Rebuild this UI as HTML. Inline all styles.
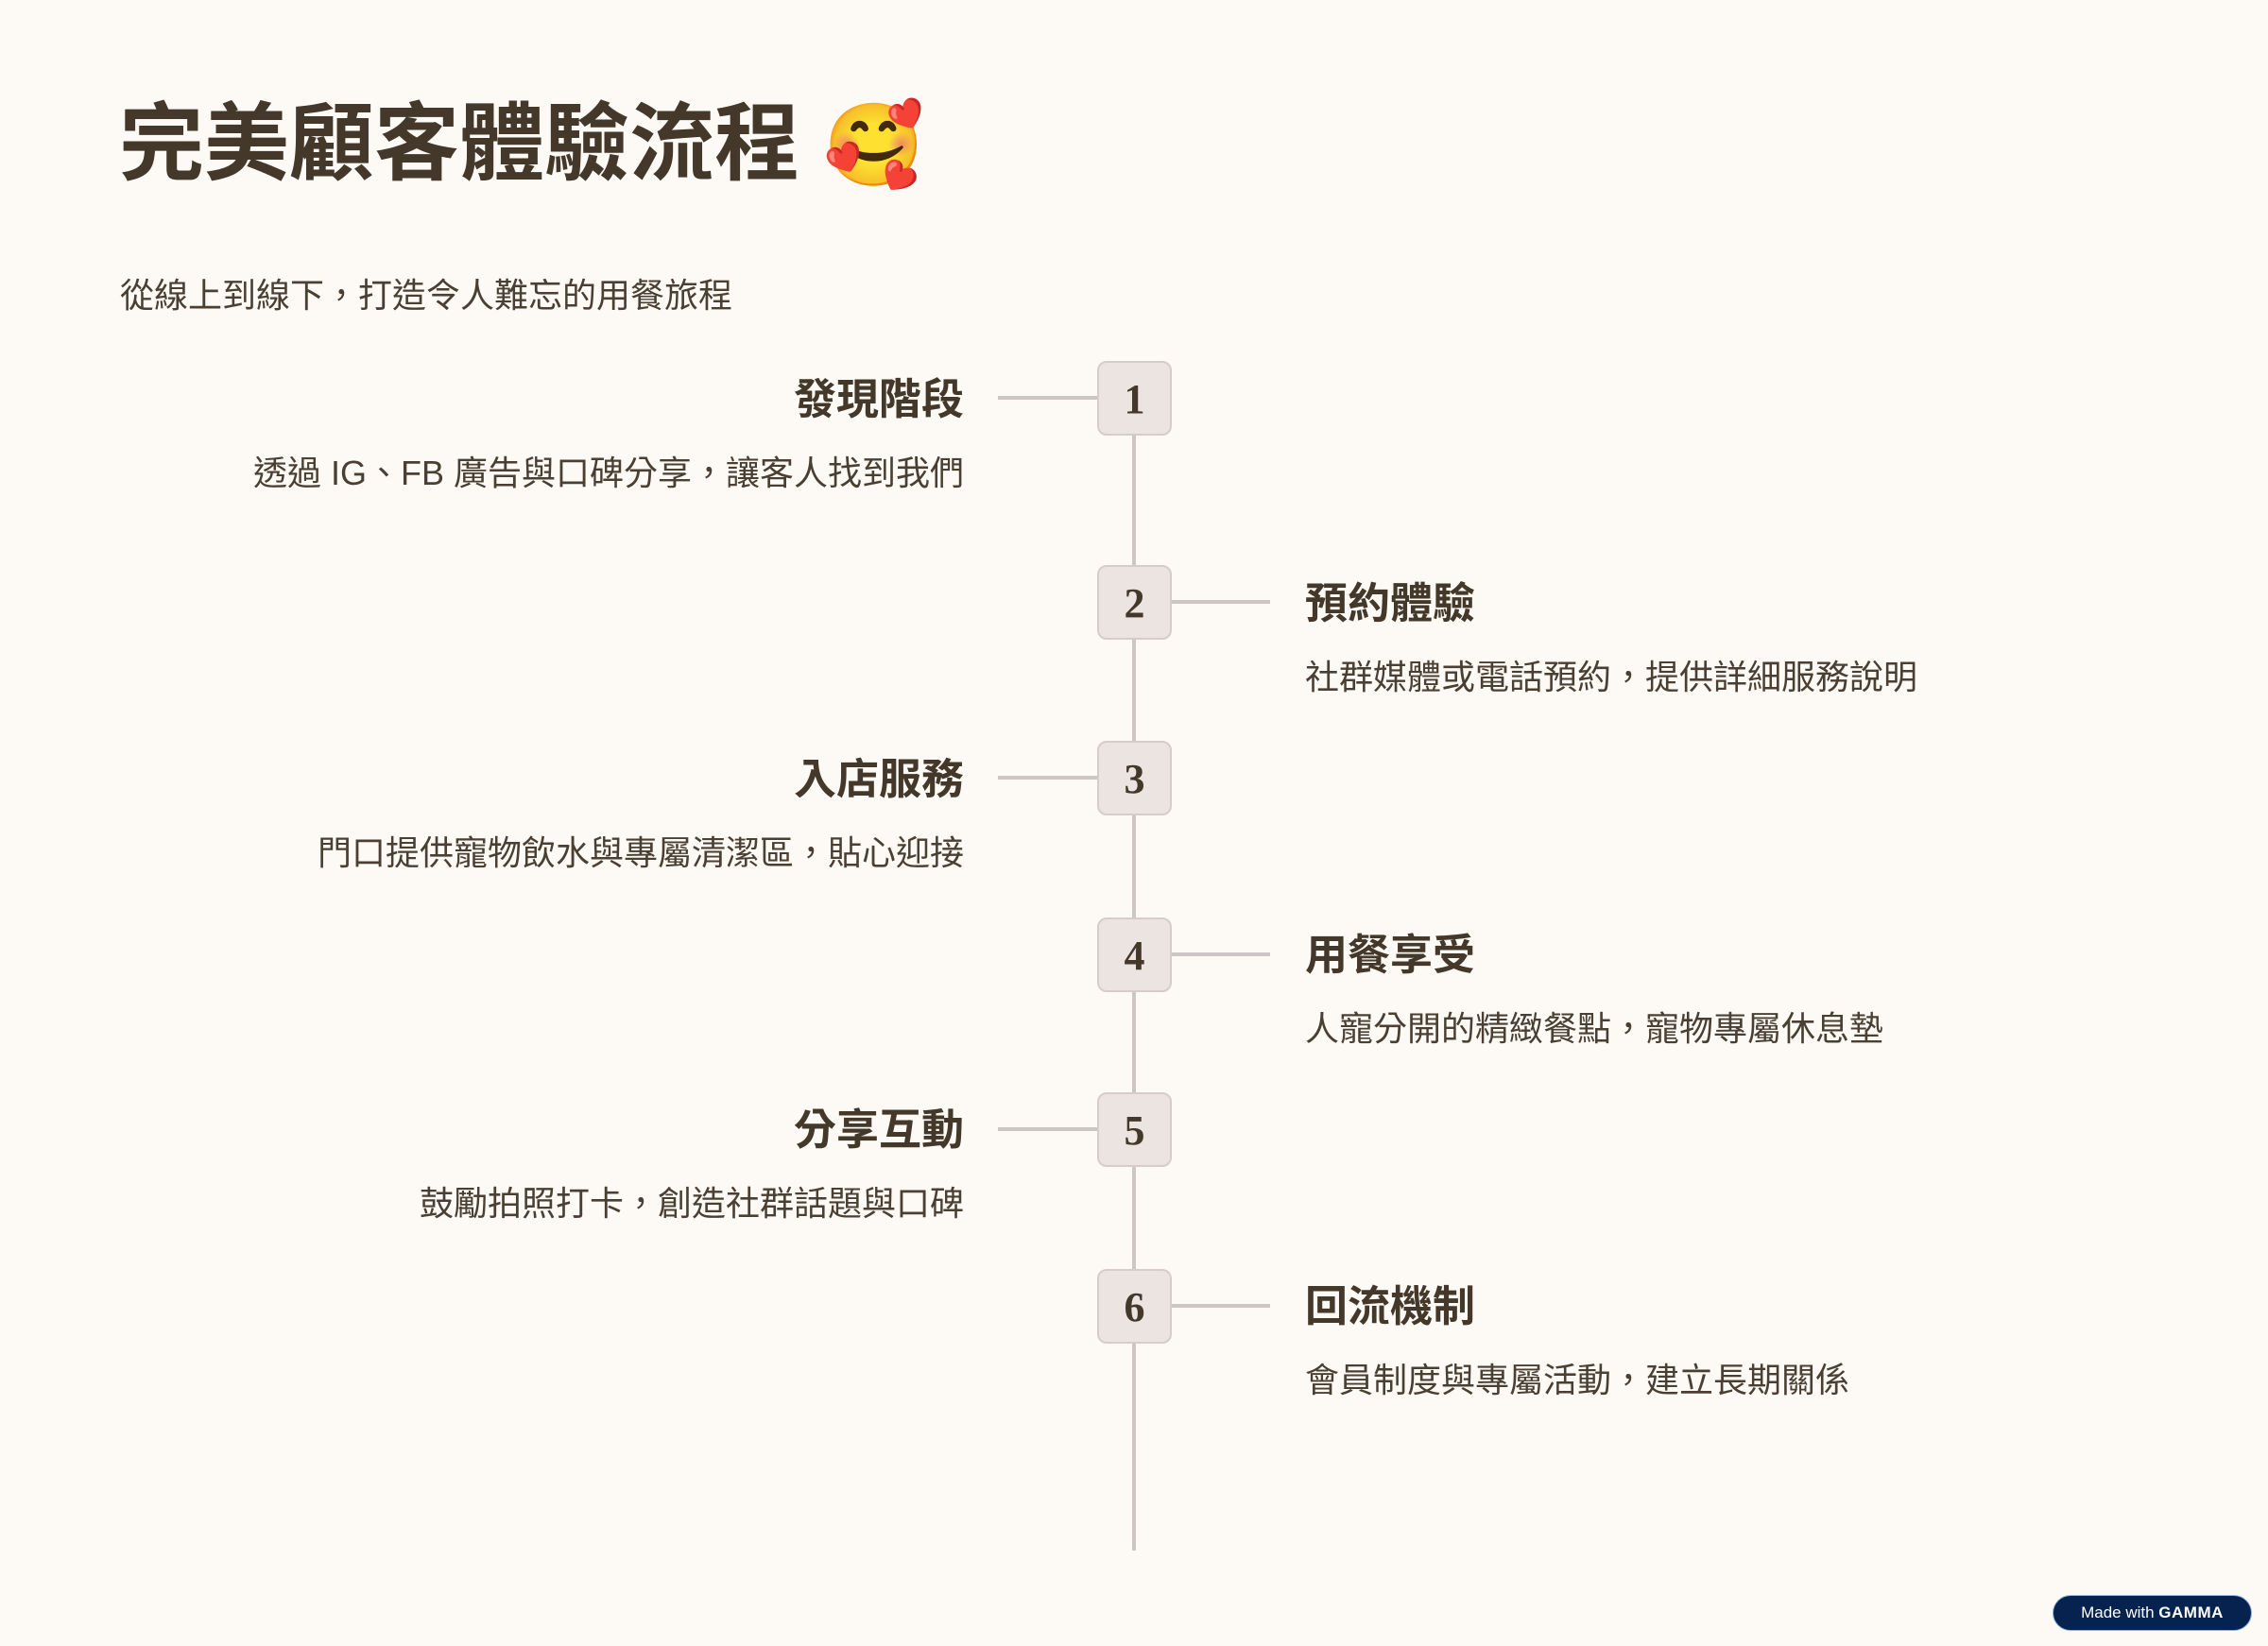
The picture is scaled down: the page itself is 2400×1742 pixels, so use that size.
<!DOCTYPE html>
<html><head><meta charset="utf-8"><style>
*{margin:0;padding:0;box-sizing:border-box}
body{width:2400px;height:1742px;background:#fdfaf6;position:relative;overflow:hidden;font-family:"Liberation Sans","Noto Sans CJK TC",sans-serif;color:#43382a}
.a{position:absolute;white-space:nowrap}
.t{left:126px;top:98px;font-size:90px;font-weight:bold;line-height:110px}
.sub{left:127px;top:291px;font-size:36px;line-height:44px;color:#4a3f33}
.h{font-size:45px;font-weight:bold;line-height:56px}
.d{font-size:36px;line-height:46px;color:#4a3f33}
.L{right:1380px;text-align:right}
.R{left:1381px}
.box{position:absolute;left:1161px;width:79px;height:79px;background:#ebe4e1;border:2px solid #d6cdca;border-radius:10px;font-family:"Liberation Serif",serif;font-weight:bold;font-size:44px;text-align:center;line-height:77px;color:#43382a}
.hl{position:absolute;height:4px;background:#cdc6c4}
.vl{position:absolute;left:1198px;width:4px;top:461px;height:1180px;background:#cdc6c4}
</style></head><body>
<div class="a t">完美顧客體驗流程 <span style="font-family:'Noto Color Emoji',sans-serif;font-size:86px">🥰</span></div>
<div class="a sub">從線上到線下，打造令人難忘的用餐旅程</div>
<div class="vl"></div>

<div class="hl" style="left:1056px;width:106px;top:419px"></div>
<div class="box" style="top:382px">1</div>
<div class="a h L" style="top:395px">發現階段</div>
<div class="a d L" style="top:478px">透過 IG、FB 廣告與口碑分享，讓客人找到我們</div>

<div class="hl" style="left:1239px;width:105px;top:635px"></div>
<div class="box" style="top:598px">2</div>
<div class="a h R" style="top:611px">預約體驗</div>
<div class="a d R" style="top:694px">社群媒體或電話預約，提供詳細服務說明</div>

<div class="hl" style="left:1056px;width:106px;top:821px"></div>
<div class="box" style="top:784px">3</div>
<div class="a h L" style="top:797px">入店服務</div>
<div class="a d L" style="top:880px">門口提供寵物飲水與專屬清潔區，貼心迎接</div>

<div class="hl" style="left:1239px;width:105px;top:1008px"></div>
<div class="box" style="top:971px">4</div>
<div class="a h R" style="top:983px">用餐享受</div>
<div class="a d R" style="top:1066px">人寵分開的精緻餐點，寵物專屬休息墊</div>

<div class="hl" style="left:1056px;width:106px;top:1193px"></div>
<div class="box" style="top:1156px">5</div>
<div class="a h L" style="top:1168px">分享互動</div>
<div class="a d L" style="top:1251px">鼓勵拍照打卡，創造社群話題與口碑</div>

<div class="hl" style="left:1239px;width:105px;top:1380px"></div>
<div class="box" style="top:1343px">6</div>
<div class="a h R" style="top:1355px">回流機制</div>
<div class="a d R" style="top:1438px">會員制度與專屬活動，建立長期關係</div>

<div class="a" style="left:2172px;top:1688px;width:211px;height:38px;border-radius:19px;background:#06224f;border:1px solid #8fb3e0;color:#fff;font-size:17px;line-height:36px;text-align:center">Made with <b style="letter-spacing:0.5px">GAMMA</b></div>
</body></html>
